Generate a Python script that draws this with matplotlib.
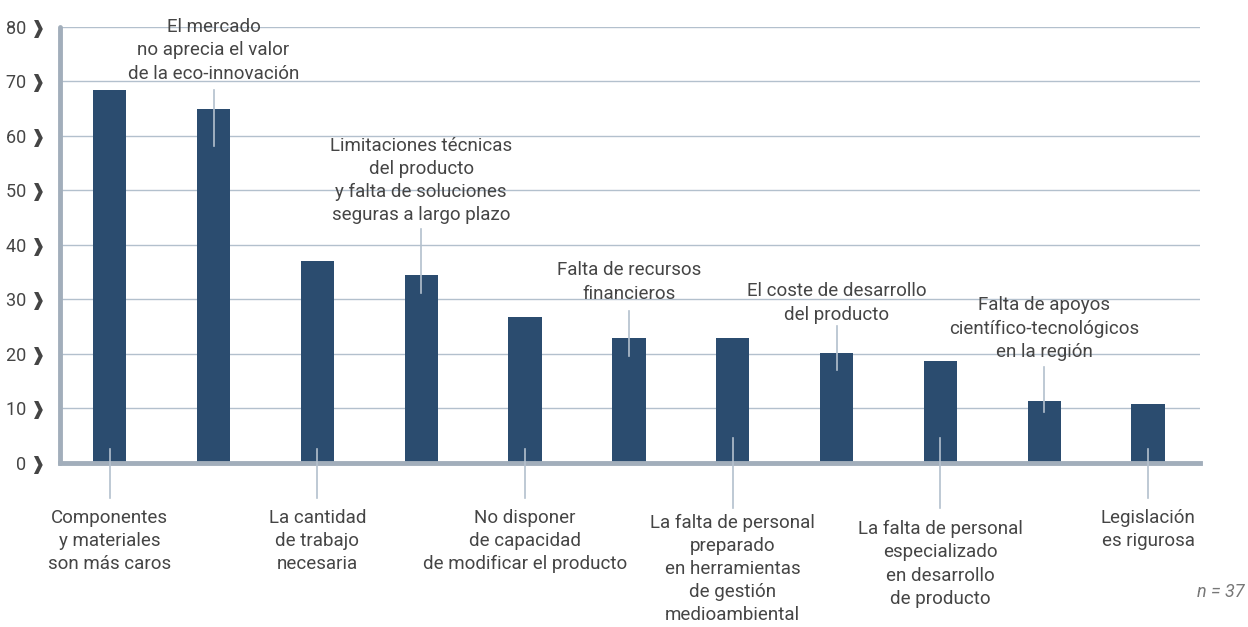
import numpy as np
import matplotlib.pyplot as plt

plt.rcParams['font.family'] = ['Roboto', 'DejaVu Sans']

# data
values = [68.5, 65, 37, 34.5, 26.7, 23, 23, 20.2, 18.7, 11.4, 10.8]
labels = [
    "Componentes\ny materiales\nson más caros",
    "El mercado\nno aprecia el valor\nde la eco-innovación",
    "La cantidad\nde trabajo\nnecesaria",
    "Limitaciones técnicas\ndel producto\ny falta de soluciones\nseguras a largo plazo",
    "No disponer\nde capacidad\nde modificar el producto",
    "Falta de recursos\nfinancieros",
    "La falta de personal\npreparado\nen herramientas\nde gestión\nmedioambiental",
    "El coste de desarrollo\ndel producto",
    "La falta de personal\nespecializado\nen desarrollo\nde producto",
    "Falta de apoyos\ncientífico-tecnológicos\nen la región",
    "Legislación\nes rigurosa",
]
yticks = [0, 10, 20, 30, 40, 50, 60, 70, 80]

BAR = '#2b4c6f'
TXT = '#454545'
GRID = '#b3c0cd'
AXC = '#a2aebb'

fig = plt.figure(figsize=(12.48, 6.27), dpi=100)
ax = fig.add_axes([0.048, 0.2616, 0.9135, 0.6954])
x = np.arange(len(values))
ax.bar(x, values, width=0.32, color=BAR, zorder=2)
ax.set_xlim(-0.48, 10.5)
ax.set_ylim(0, 80)

ax.set_yticks(yticks)
ax.set_yticklabels([f"{t} \u2771" for t in yticks], color=TXT, fontsize=13)
ax.tick_params(axis='y', length=0, pad=10)
ax.set_xticks([])
ax.grid(axis='y', color=GRID, lw=1, zorder=0)
for s in ['top', 'right']:
    ax.spines[s].set_visible(False)
for s in ['left', 'bottom']:
    ax.spines[s].set_color(AXC)
    ax.spines[s].set_linewidth(3.5)
    ax.spines[s].set_zorder(3)
ax.spines['left'].set_capstyle('round')


def py(p):
    # pixel row in the picture -> value on the y axis
    return (463 - p) / 5.45


# upper labels: index -> (line start, line end, first text line centre, last line centre)
upper = {1: (90, 146, 26, 73), 3: (229, 293, 143, 216), 5: (311, 356, 270, 292),
         7: (326, 370, 290, 314), 9: (367, 412, 303, 352)}
# lower labels
lower = {0: (449, 498, 517, 563), 2: (449, 498, 517, 563), 4: (449, 498, 517, 563),
         6: (438, 508, 524, 612), 8: (438, 508, 527, 599), 10: (449, 498, 517, 540)}

for i, (a, b, t0, t1) in list(upper.items()) + list(lower.items()):
    ax.plot([x[i], x[i]], [py(a), py(b)], color=GRID, lw=1.2, zorder=4, clip_on=False)
    ax.text(x[i], py((t0 + t1) / 2 + 1), labels[i], ha='center', va='center',
            color=TXT, fontsize=13.5, linespacing=1.37, zorder=5, clip_on=False)

fig.text(0.997, 0.056, "n = 37", ha='right', va='center', color='#777777',
         fontsize=13, style='italic')

fig.savefig('out.png', dpi=100, facecolor='white')
